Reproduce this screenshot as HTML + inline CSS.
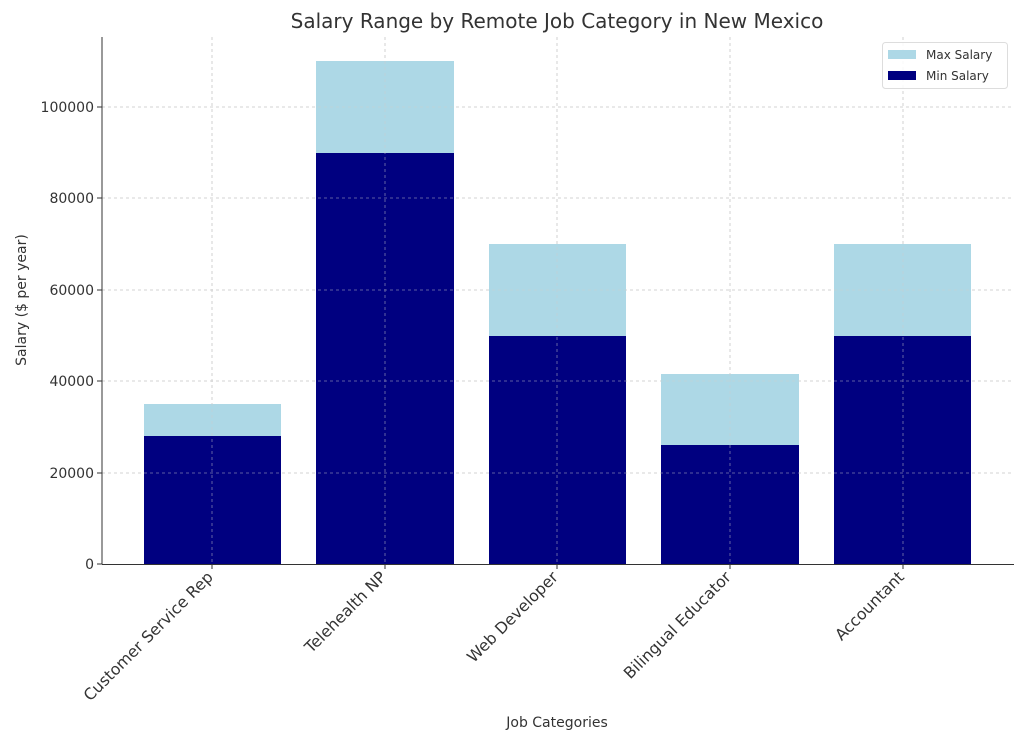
<!DOCTYPE html>
<html><head><meta charset="utf-8"><style>body{margin:0;background:#fff}svg{display:block}text{font-family:"DejaVu Sans","Liberation Sans",sans-serif;fill:#333}</style></head><body>
<svg width="1024" height="750" viewBox="0 0 1024 750" xmlns="http://www.w3.org/2000/svg">
<rect width="1024" height="750" fill="#fff"/>
<text x="557" y="28" font-size="20" text-anchor="middle">Salary Range by Remote Job Category in New Mexico</text>
<g stroke="#ccc" stroke-dasharray="3,3" stroke-width="0.8">
<line x1="102" x2="1014" y1="473" y2="473"/><line x1="102" x2="1014" y1="381" y2="381"/><line x1="102" x2="1014" y1="290" y2="290"/><line x1="102" x2="1014" y1="198" y2="198"/><line x1="102" x2="1014" y1="107" y2="107"/>
<line x1="212" x2="212" y1="37" y2="564"/><line x1="385" x2="385" y1="37" y2="564"/><line x1="557" x2="557" y1="37" y2="564"/><line x1="730" x2="730" y1="37" y2="564"/><line x1="903" x2="903" y1="37" y2="564"/>
</g>
<g fill="#add8e6">
<rect x="144" y="404" width="137" height="160"/><rect x="316" y="61" width="138" height="503"/><rect x="489" y="244" width="137" height="320"/><rect x="661" y="374" width="138" height="190"/><rect x="834" y="244" width="137" height="320"/>
</g>
<g fill="#000080">
<rect x="144" y="436" width="137" height="128"/><rect x="316" y="153" width="138" height="411"/><rect x="489" y="336" width="137" height="228"/><rect x="661" y="445" width="138" height="119"/><rect x="834" y="336" width="137" height="228"/>
</g>
<g stroke="#ccc" stroke-dasharray="3,3" stroke-width="0.8" opacity="0.6">
<line x1="212" x2="212" y1="37" y2="564"/><line x1="385" x2="385" y1="37" y2="564"/><line x1="557" x2="557" y1="37" y2="564"/><line x1="730" x2="730" y1="37" y2="564"/><line x1="903" x2="903" y1="37" y2="564"/>
<line x1="102" x2="1014" y1="473" y2="473"/><line x1="102" x2="1014" y1="381" y2="381"/><line x1="102" x2="1014" y1="290" y2="290"/><line x1="102" x2="1014" y1="198" y2="198"/><line x1="102" x2="1014" y1="107" y2="107"/>
</g>
<g stroke="#333" stroke-width="1">
<line x1="102" x2="102" y1="37" y2="564.5"/><line x1="102" x2="1014" y1="564.5" y2="564.5"/>
<line x1="97" x2="102" y1="564" y2="564"/><line x1="97" x2="102" y1="473" y2="473"/><line x1="97" x2="102" y1="381" y2="381"/><line x1="97" x2="102" y1="290" y2="290"/><line x1="97" x2="102" y1="198" y2="198"/><line x1="97" x2="102" y1="107" y2="107"/>
<line x1="212" x2="212" y1="564" y2="569"/><line x1="385" x2="385" y1="564" y2="569"/><line x1="557" x2="557" y1="564" y2="569"/><line x1="730" x2="730" y1="564" y2="569"/><line x1="903" x2="903" y1="564" y2="569"/>
</g>
<g font-size="14" text-anchor="end">
<text x="94" y="569">0</text><text x="94" y="478">20000</text><text x="94" y="386">40000</text><text x="94" y="295">60000</text><text x="94" y="203">80000</text><text x="94" y="112">100000</text>
</g>
<g font-size="15.8" text-anchor="end">
<text transform="translate(214,578) rotate(-45)">Customer Service Rep</text>
<text transform="translate(387,578) rotate(-45)">Telehealth NP</text>
<text transform="translate(559,578) rotate(-45)">Web Developer</text>
<text transform="translate(732,578) rotate(-45)">Bilingual Educator</text>
<text transform="translate(905,578) rotate(-45)">Accountant</text>
</g>
<text x="557" y="727" font-size="14" text-anchor="middle">Job Categories</text>
<text transform="translate(26,300) rotate(-90)" font-size="14" text-anchor="middle">Salary ($ per year)</text>
<rect x="882.5" y="42.5" width="125" height="46" rx="3" fill="#fff" fill-opacity="0.85" stroke="#ddd"/>
<rect x="888" y="50" width="28" height="9" fill="#add8e6"/>
<rect x="888" y="71" width="28" height="9" fill="#000080"/>
<text x="926" y="59" font-size="12">Max Salary</text>
<text x="926" y="80" font-size="12">Min Salary</text>
</svg>
</body></html>
